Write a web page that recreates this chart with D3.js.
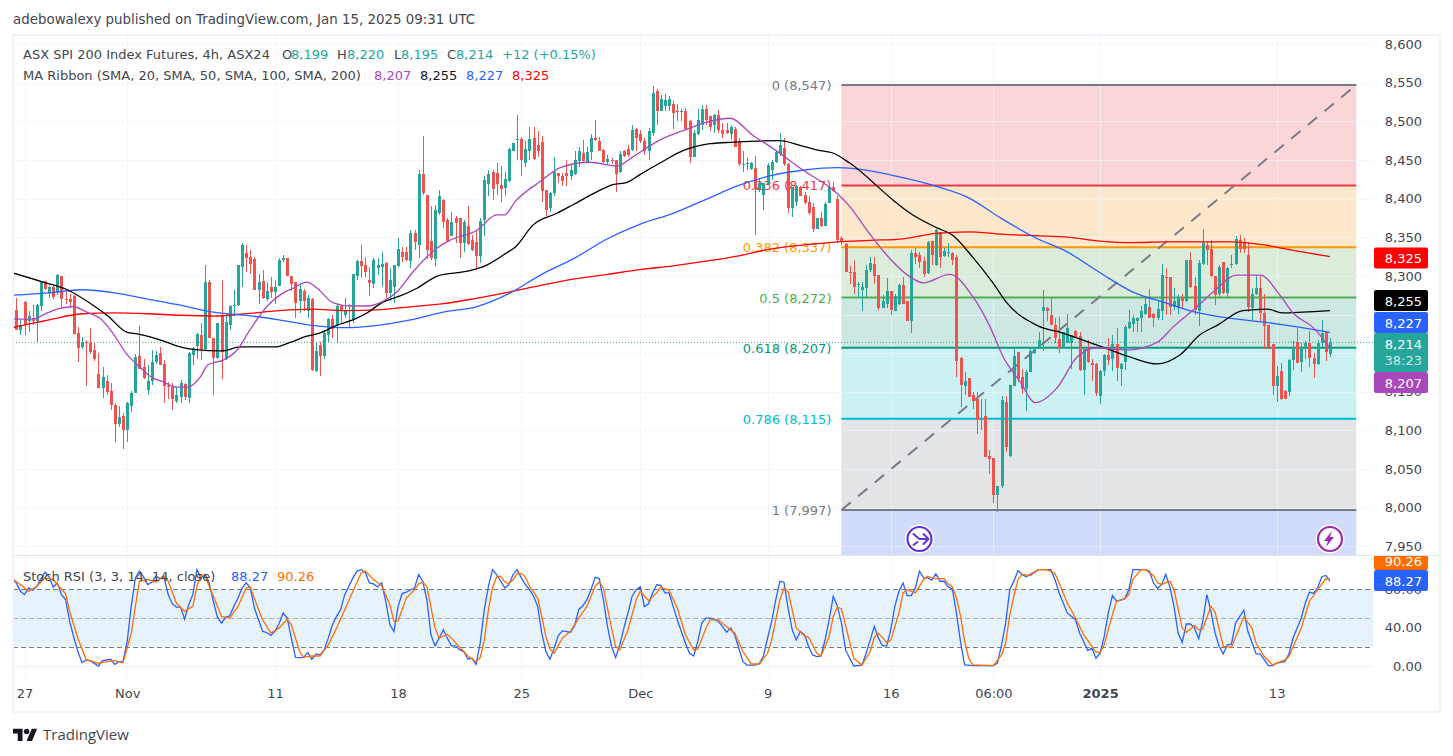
<!DOCTYPE html>
<html>
<head>
<meta charset="utf-8">
<script src="https://cdn.jsdelivr.net/npm/d3@7"></script>
<style>
    html, body { margin: 0; padding: 0; background: #fff; }
    svg { display: block; }
    text { font-family: "DejaVu Sans", sans-serif; }
</style>
</head>
<body>
<div id="chart"></div>
<script>
// candles, oldest first
const openVals = [
    8256,8230,8266,8242,8245,8241,8261,8294,8278,8286,8279,8300,8270,8270,8274,8226,8208,8214,8213,8204,
    8173,8155,8164,8151,8133,8108,8119,8101,8132,8149,8196,8182,8152,8164,8189,8200,8186,8158,8156,8138,
    8143,8160,8142,8198,8209,8223,8205,8292,8220,8194,8248,8193,8237,8261,8262,8312,8330,8325,8322,8282,
    8293,8270,8286,8279,8287,8320,8323,8300,8292,8267,8280,8254,8270,8177,8210,8196,8223,8244,8236,8261,
    8249,8256,8243,8300,8319,8314,8295,8290,8310,8311,8317,8278,8286,8313,8331,8331,8319,8356,8340,8432,
    8405,8345,8322,8381,8398,8372,8352,8375,8375,8343,8365,8347,8344,8326,8372,8419,8435,8433,8417,8414,
    8423,8462,8476,8477,8446,8462,8478,8470,8473,8411,8388,8407,8433,8429,8433,8429,8432,8449,8459,8448,
    8460,8479,8475,8463,8448,8450,8450,8435,8462,8464,8463,8490,8483,8475,8461,8485,8539,8514,8520,8520,
    8523,8513,8513,8513,8501,8454,8484,8495,8516,8507,8495,8508,8489,8489,8483,8490,8473,8445,8446,8438,
    8439,8413,8405,8419,8437,8448,8458,8465,8445,8388,8396,8415,8405,8395,8389,8361,8375,8364,8394,8415,
    8400,8349,8341,8305,8305,8289,8282,8284,8308,8316,8301,8259,8263,8281,8255,8264,8288,8267,8242,8329,
    8327,8319,8304,8345,8314,8357,8326,8331,8330,8324,8194,8158,8168,8146,8141,8113,8119,8067,8064,8016,
    8028,8137,8067,8157,8201,8169,8153,8176,8200,8206,8255,8259,8249,8237,8218,8207,8213,8213,8229,8222,
    8178,8204,8187,8186,8145,8177,8198,8192,8212,8180,8189,8232,8238,8241,8246,8251,8260,8251,8246,8254,
    8299,8298,8260,8259,8272,8267,8320,8287,8254,8316,8340,8335,8300,8276,8318,8278,8314,8316,8347,8344,
    8327,8259,8276,8284,8252,8236,8212,8157,8177,8151,8150,8191,8214,8188,8206,8213,8194,8186,8213,8227,8199
];
const highVals = [
    8271,8243,8267,8254,8262,8264,8294,8294,8288,8288,8303,8300,8279,8277,8275,8234,8221,8217,8233,8213,
    8200,8182,8172,8161,8135,8131,8123,8137,8151,8199,8235,8193,8185,8204,8203,8208,8191,8163,8161,8156,
    8165,8162,8202,8208,8226,8239,8314,8295,8220,8239,8295,8252,8262,8282,8314,8342,8340,8333,8324,8303,
    8308,8292,8299,8295,8323,8327,8323,8300,8292,8291,8283,8275,8271,8213,8215,8230,8246,8249,8264,8262,
    8271,8264,8303,8321,8340,8325,8312,8323,8323,8331,8318,8310,8314,8349,8338,8338,8359,8359,8437,8481,
    8405,8390,8392,8411,8399,8375,8383,8377,8375,8372,8391,8353,8360,8375,8429,8437,8437,8446,8442,8435,
    8465,8472,8508,8480,8474,8493,8493,8487,8481,8411,8408,8454,8433,8433,8450,8444,8461,8467,8476,8467,
    8483,8502,8480,8464,8457,8452,8450,8461,8463,8470,8495,8491,8489,8478,8491,8546,8542,8534,8536,8533,
    8526,8523,8516,8517,8502,8489,8516,8521,8521,8507,8510,8515,8498,8498,8495,8493,8478,8461,8452,8448,
    8455,8426,8420,8446,8450,8461,8485,8478,8446,8415,8418,8416,8409,8403,8394,8375,8383,8395,8420,8421,
    8403,8351,8342,8313,8320,8292,8292,8314,8324,8325,8301,8275,8297,8281,8276,8290,8298,8267,8334,8336,
    8331,8325,8345,8345,8361,8357,8336,8342,8331,8327,8195,8176,8168,8150,8150,8141,8141,8075,8064,8028,
    8145,8144,8159,8206,8201,8180,8178,8208,8208,8228,8282,8260,8271,8246,8247,8228,8251,8223,8230,8228,
    8206,8217,8193,8187,8178,8199,8219,8223,8233,8187,8236,8256,8249,8247,8261,8271,8283,8252,8267,8316,
    8310,8298,8284,8275,8276,8321,8331,8299,8321,8361,8344,8346,8300,8314,8318,8312,8327,8352,8353,8349,
    8344,8284,8301,8301,8277,8236,8212,8184,8187,8152,8192,8216,8233,8213,8216,8229,8200,8217,8243,8228,8220
];
const lowVals = [
    8230,8224,8224,8227,8236,8215,8254,8282,8271,8270,8275,8258,8264,8260,8225,8188,8205,8157,8199,8190,
    8155,8142,8146,8126,8085,8105,8076,8085,8124,8148,8180,8167,8146,8159,8186,8185,8136,8141,8126,8136,
    8136,8139,8136,8185,8193,8191,8204,8220,8146,8193,8167,8191,8230,8248,8261,8286,8305,8303,8282,8264,
    8270,8267,8271,8264,8287,8318,8300,8280,8245,8252,8254,8245,8177,8176,8170,8193,8215,8219,8213,8239,
    8246,8234,8239,8295,8297,8299,8274,8284,8301,8286,8271,8267,8265,8312,8318,8319,8310,8334,8323,8405,
    8322,8321,8313,8379,8362,8344,8351,8342,8323,8331,8340,8332,8307,8317,8351,8403,8398,8405,8396,8403,
    8422,8461,8450,8429,8441,8450,8450,8454,8396,8378,8383,8403,8420,8416,8416,8424,8431,8441,8446,8446,
    8450,8474,8461,8446,8445,8445,8409,8433,8454,8454,8461,8461,8472,8457,8450,8481,8495,8514,8514,8513,
    8490,8500,8500,8490,8446,8454,8482,8489,8495,8487,8485,8485,8478,8483,8476,8467,8442,8435,8437,8437,
    8353,8409,8385,8418,8424,8446,8455,8442,8381,8376,8390,8403,8393,8379,8357,8361,8363,8364,8394,8409,
    8342,8340,8305,8290,8277,8273,8255,8273,8305,8290,8256,8258,8258,8249,8254,8262,8264,8242,8226,8316,
    8310,8298,8302,8314,8313,8310,8324,8325,8314,8169,8130,8146,8143,8128,8096,8100,8065,8044,8006,7995,
    8025,8072,8066,8157,8163,8147,8125,8175,8199,8206,8203,8241,8236,8213,8200,8207,8213,8180,8219,8177,
    8146,8187,8164,8144,8134,8171,8185,8177,8164,8157,8178,8231,8228,8228,8228,8249,8246,8234,8243,8243,
    8249,8249,8256,8251,8258,8266,8284,8249,8235,8314,8314,8298,8262,8273,8277,8273,8310,8314,8329,8329,
    8253,8243,8275,8241,8205,8205,8146,8137,8140,8141,8144,8178,8187,8176,8193,8182,8168,8185,8208,8190,8195
];
const closeVals = [
    8230,8236,8236,8248,8241,8262,8292,8283,8285,8273,8301,8270,8269,8266,8225,8207,8214,8213,8201,8192,
    8155,8169,8150,8133,8108,8117,8101,8136,8149,8195,8180,8168,8164,8189,8198,8185,8158,8157,8141,8146,
    8162,8143,8200,8207,8225,8205,8292,8220,8194,8239,8202,8240,8261,8262,8314,8340,8323,8315,8282,8292,
    8271,8280,8279,8286,8320,8323,8300,8289,8265,8283,8267,8271,8178,8203,8196,8226,8244,8231,8261,8254,
    8256,8254,8302,8319,8313,8305,8291,8320,8314,8315,8278,8295,8314,8335,8325,8321,8356,8344,8432,8407,
    8334,8323,8385,8403,8370,8345,8370,8368,8343,8370,8341,8333,8326,8371,8424,8432,8413,8419,8413,8425,
    8464,8472,8477,8450,8464,8477,8451,8462,8410,8385,8407,8434,8429,8423,8429,8437,8450,8461,8449,8460,
    8479,8476,8462,8447,8451,8449,8432,8458,8455,8457,8489,8478,8475,8461,8487,8537,8514,8529,8528,8529,
    8511,8512,8513,8490,8454,8485,8502,8516,8502,8493,8508,8489,8484,8485,8493,8467,8445,8445,8446,8446,
    8413,8420,8420,8444,8448,8460,8470,8445,8388,8415,8416,8403,8394,8382,8361,8375,8364,8393,8415,8410,
    8347,8344,8305,8304,8285,8290,8286,8307,8317,8300,8259,8267,8281,8256,8274,8288,8264,8242,8329,8324,
    8318,8303,8344,8327,8359,8325,8332,8331,8321,8190,8159,8164,8143,8138,8113,8115,8066,8063,8016,8028,
    8139,8078,8159,8196,8166,8153,8176,8203,8205,8217,8260,8255,8236,8219,8207,8227,8233,8223,8219,8178,
    8205,8188,8185,8148,8177,8198,8191,8212,8181,8186,8234,8240,8245,8246,8254,8264,8246,8245,8257,8301,
    8298,8260,8267,8272,8267,8320,8285,8256,8317,8342,8333,8300,8275,8312,8278,8310,8316,8348,8335,8335,
    8260,8277,8284,8252,8235,8205,8157,8171,8141,8141,8191,8205,8187,8206,8213,8194,8186,8213,8226,8201,8214
];

// moving averages, read at the bends of each line
const sma20Bars = [-1,4,7.5,10.6,13.8,17.2,20.4,23.5,27,30.1,32.6,35.7,39.1,41.8,44.8,46.7,50.4,53.8,56.9,61,65,67.4,70.8,73.3,77.2,81.3,85.4,89.3,92.7,96.6,102.5,105.6,112.2,117,119,121.5,127.6,132.5,139.7,146.3,150.2,156.8,163.4,168.2,173.9,179.4,184.3,191.6,199.9,203,207.2,212,217.6,220.9,227.4,233,237.2,240.4,244.5,248.2,253.5,258.4,263.2,270.5,277.9,281.8,287.6,291.5,297.4,303,307.8,311,315.9,320];
const sma20 = [8244,8244,8252,8258,8260,8253,8245,8226,8198,8182,8170,8163,8156,8156,8169,8185,8191,8204,8230,8260,8278,8284,8292,8284,8265,8261,8261,8267,8279,8305,8336,8346,8359,8379,8379,8396,8422,8440,8447,8442,8454,8476,8490,8499,8504,8482,8465,8437,8407,8390,8359,8327,8299,8291,8302,8273,8234,8195,8163,8136,8155,8195,8207,8204,8214,8234,8260,8279,8301,8301,8275,8252,8233,8207];
const sma50Bars = [-1,6.5,12.4,18.7,22.1,27,29.4,32.6,35.7,39.9,43,50.4,54.5,63,66.7,70.8,73.9,78,82,85.4,89.3,93.5,97.6,102.7,109.8,114.6,119.5,121.5,125.9,131.7,135.6,141.5,145.3,148.8,151.9,156.8,162.4,169,174.6,186,190.9,195.8,198.9,203,213.6,217.2,224.3,228,233,237.9,241.3,248.6,254.9,264,271.3,277.9,283.5,288.4,292.5,298.8,304.7,308.6,313.4,320];
const sma50 = [8304,8292,8282,8262,8249,8227,8225,8221,8216,8208,8205,8203,8208,8208,8214,8222,8226,8236,8243,8252,8266,8274,8284,8300,8306,8314,8330,8337,8366,8381,8392,8409,8418,8421,8431,8446,8462,8471,8473,8475,8469,8462,8459,8446,8398,8383,8362,8353,8324,8291,8265,8236,8226,8209,8195,8186,8198,8224,8236,8255,8257,8252,8253,8255];
const maBars = [-1,8,16,24,32,40,48,56,64,72,80,88,96,104,112,120,128,136,144,152,160,168,176,184,192,200,208,216,224,232,240,248,256,264,272,280,288,296,304,312,320];
const sma100 = [8275,8278,8282,8278,8270,8262,8253,8249,8243,8236,8233,8236,8243,8253,8260,8277,8302,8323,8348,8367,8381,8399,8417,8430,8437,8440,8436,8427,8416,8401,8374,8350,8331,8304,8279,8265,8252,8245,8240,8234,8227];
const sma200 = [8233,8243,8251,8252,8251,8249,8248,8251,8255,8257,8255,8256,8260,8264,8271,8279,8288,8296,8302,8308,8313,8319,8326,8335,8340,8344,8346,8348,8355,8357,8354,8352,8350,8345,8343,8344,8344,8344,8340,8332,8325];

// stoch rsi
const kBars = [-1,0,1,2,3,4,5,7,8,9,10,11,12,13,14,15,16,17,18,20,21,23,24,25,26,27,28,29,30,31,32,33,34,35,36,37,38,39,40,41,42,43,44,45,46,47,48,49,50,51,52,53,54,55,56,57,58,59,60,61,62,63,64,65,66,67,68,69,70,71,72,73,74,75,76,77,78,79,80,82,83,84,85,86,87,88,89,90,91,92,93,94,95,97,98,99,100,101,102,103,104,105,106,107,108,109,110,111,112,
    113,114,115,116,117,118,119,120,121,122,123,124,125,126,127,128,129,130,131,132,133,135,136,137,138,139,140,141,142,143,144,145,146,147,148,149,150,151,152,153,154,155,156,157,158,159,160,161,162,163,164,165,166,167,168,169,170,171,172,173,174,175,176,177,178,180,181,182,183,184,185,186,187,188,189,190,191,192,193,194,195,196,197,198,199,200,201,202,203,204,206,207,208,209,210,211,212,213,214,215,216,217,218,219,220,221,222,223,224,225,226,227,228,229,230,
    231,233,238,239,240,241,242,243,244,245,246,247,249,251,252,253,254,256,258,259,260,261,262,263,264,265,266,267,268,270,271,272,275,276,277,278,279,280,281,282,283,284,285,286,287,288,289,290,291,292,293,294,295,296,297,299,300,302,303,305,306,307,309,310,311,313,314,315,316,317,318,319,320];
const kVals = [90.5,86.3,77.6,74.1,81.1,78.6,82.8,97.4,92.6,81.8,86.3,74.1,68.9,46.3,29.9,15,3.5,6.3,5.6,0,5.6,7,1.7,4.5,4.5,25.4,61.9,91.5,98.5,92.6,84.6,87,93.3,90.5,91.5,74.1,64.7,61.2,61.2,48.7,63.7,74.1,100,91.5,95,86.3,67.2,50.5,44.5,50.5,52.2,61.9,70.6,81.1,86.3,81.1,60.2,48,35.9,34.8,31.7,35.9,43.8,55,49.8,28.9,9,8.7,9,13.9,7,12.5,11.5,16.7,28.9,42.8,51.5,58.5,74.1,91.5,98.5,100,97.4,86.3,85.3,82.1,86.3,67.2,42.8,35.9,61.9,75.2,76.6,81.1,95,88,68.9,32.4,20.9,28.9,37.6,28.9,20.9,20.9,16.7,15,7.3,8,1.7,
    23.7,58.5,82.8,100,95,88,81.1,84.6,95,100,91.5,84.6,79.3,72.4,61.9,34.1,15,7,18.4,31.3,36.5,35.1,41.8,58.5,62.6,68.9,79.3,92.2,90.8,68.9,41.1,20.2,8.7,21.9,39.3,55,72.4,79.3,82.1,61.9,64.4,75.9,84.6,83.5,75.9,75.9,61.9,48,35.9,23.7,13.2,10.4,25.4,45.2,49.8,49.8,48.7,46.3,41.1,35.1,39.3,32.4,18.4,4.5,1,1,2.8,10.4,28.9,46.3,68.9,88,87,60.2,37.6,27.1,35.9,32.4,20.2,11.5,9.7,10.4,27.1,48,72.4,61.9,44.5,16.7,8,0,1,13.2,27.1,41.1,28.9,20.9,20.9,37.6,61.9,77.6,86.3,73.1,73.1,81.1,98.5,91.5,91.5,89.1,95.7,88,88,82.1,80,55,25,
    1.1,0.4,0.4,2.9,22,44.6,79.4,88.1,99,95.1,92.7,95.1,100,100,100,89.9,76,55.1,48.1,34.2,25.5,16.1,18.5,8.1,13.3,30.7,55.1,73.2,67.3,69.7,79.4,100,100,98.6,86.4,80.5,84.7,95.1,82.2,62,34.2,24.5,43.6,43.6,39.4,28.3,46.4,74.2,56.8,34.2,20.3,12.6,22,22.7,44.6,57.9,36,12.6,12.6,0.4,0.4,2.9,4.6,12.6,29,49.9,65.5,76.7,75.3,81.2,92.7,94,88.27];
const dBars = [-1,1,3,5,7,9,10,12,13,15,17,20,22,24,26,28,29,30,32,34,36,37,39,41,43,44,45,46,48,50,52,54,56,57,59,60,62,64,66,67,69,70,72,74,76,78,80,82,84,85,87,89,91,92,93,95,97,98,99,100,102,103,105,106,108,110,112,
    113,114,115,116,117,118,119,120,121,122,123,124,125,127,128,129,130,131,133,135,137,139,141,142,143,145,146,147,149,151,152,154,156,157,159,161,163,165,166,168,169,171,173,175,177,179,181,183,184,186,187,188,190,192,193,195,196,198,199,200,201,204,206,208,209,210,212,213,215,216,217,219,221,222,223,224,226,227,228,229,230,
    231,232,233,238,240,241,242,243,244,245,247,249,251,253,254,256,258,260,262,263,264,265,267,268,270,271,272,274,275,277,278,279,281,282,284,285,287,288,289,291,292,294,296,299,301,302,304,306,309,310,313,315,317,319,320];
const dVals = [90.5,84.6,77.6,82.8,91.5,89.8,84.6,75.2,56.7,28.9,6.9,2.8,4.5,5.6,3.5,34.1,61.9,88,89.8,87.3,93.3,88,65.4,56.7,61.9,82.8,95,93.3,72.4,51.5,49.8,61.9,81.1,81.8,58.5,48,34.1,39.3,48.7,42.8,15,9,10.4,10.4,21.9,39.3,58.5,77.6,96.7,98.5,89.8,83.5,63.7,46.3,47,70.6,79.3,85.3,87.3,82.8,39.3,28.9,33,28.9,19.5,10.4,4.5,
    8.7,27.1,58.5,81.1,92.6,93.3,87.3,85.6,89.8,96,96,92.6,82.8,70.6,51.5,30.6,17.4,13.2,28.9,35.9,49.8,61.9,82.8,87.3,81.1,39.3,20.2,16.7,37.6,68.9,77.6,67.9,75.9,81.8,78.6,60.2,32.4,16.7,17.4,39.3,48,48,41.1,34.1,15,2.1,2.1,13.2,27.1,68.9,81.1,77.6,39.3,31.3,29.9,13.2,10.4,30.6,51.5,61.2,59.2,8,1,15,29.9,34.1,24.4,26.4,55,75.9,79.3,75.9,89.8,93.3,91.5,90.8,90.8,85.3,82.1,70.6,52,
    25.5,8.1,1.1,0.4,11.6,23.8,53.3,72.5,89.9,95.1,94,100,100,96.1,86.4,65.5,49.9,32.5,20.3,14.4,14,22,53.3,67.3,69.7,74.2,89.9,100,100,94,86.4,84.7,88.1,79.4,39.4,34.9,41.9,37.7,38.4,62,56.1,20.3,19.6,50.9,39.4,23.8,9.8,1.1,6.4,9.8,39.4,67.3,79.4,90.6,90.26];

// axes
const priceTicks = [7950,8000,8050,8100,8150,8200,8250,8300,8350,8400,8450,8500,8550,8600];
const priceLabelTicks = [7950,8000,8050,8100,8150,8300,8350,8400,8450,8500,8550,8600];
const stochTicks = [0,40,80];
const timeTickBars = [2,27,63,93,123,152,183,213,238,264,307];
const timeTickLabels = ["27","Nov","11","18","25","Dec","9","16","06:00","2025","13"];

// fibonacci retracement
const fibRatios = ["0","0.236","0.382","0.5","0.618","0.786","1"];
const fibPrices = [8547,8417,8337,8272,8207,8115,7997];
const fibLines = ["#787b86","#f23645","#ff9800","#4caf50","#089981","#00bcd4","#787b86"];
const fibFills = ["#fbd6d9","#fee8cc","#dcecda","#cde8e2","#ccf1f3","#e3e4e6","#d1dcfb"];
const fibStartBar = 201, fibEndBar = 326.4;

const width = 1453, height = 756;
const left = 13, right = 1440, paneRight = 1373;
const fontSize = 13;

const svg = d3.select("#chart").append("svg")
    .attr("width", width)
    .attr("height", height);

const x = d3.scaleLinear().domain([0, 320]).range([16.3, 1330]);
const y = d3.scaleLinear().domain([7997, 8547]).range([510, 85]);
const ys = d3.scaleLinear().domain([0, 100]).range([666, 569.7]);
const priceBottom = 555;

svg.append("defs").append("clipPath").attr("id", "price-clip")
    .append("rect").attr("x", left).attr("y", 36).attr("width", paneRight - left).attr("height", priceBottom - 36);
svg.select("defs").append("clipPath").attr("id", "stoch-clip")
    .append("rect").attr("x", left).attr("y", priceBottom).attr("width", paneRight - left).attr("height", 122);
svg.select("defs").append("clipPath").attr("id", "stoch-label-clip")
    .append("rect").attr("x", 1370).attr("y", priceBottom + 1).attr("width", 70).attr("height", 122);

// grid
const grid = svg.append("g").attr("stroke", "#f0f3fa").attr("stroke-width", 1).attr("shape-rendering", "crispEdges");
grid.selectAll(".v").data(timeTickBars).enter().append("line")
    .attr("x1", d => Math.round(x(d)) + 0.5).attr("x2", d => Math.round(x(d)) + 0.5)
    .attr("y1", 36).attr("y2", 677);
grid.selectAll(".h").data(priceTicks).enter().append("line")
    .attr("x1", left).attr("x2", paneRight)
    .attr("y1", d => Math.round(y(d)) + 0.5).attr("y2", d => Math.round(y(d)) + 0.5);

// fib bands
const fibEdges = fibPrices.concat([y.invert(priceBottom)]);
svg.selectAll(".fib-band").data(fibFills).enter().append("rect")
    .attr("x", x(fibStartBar))
    .attr("width", x(fibEndBar) - x(fibStartBar))
    .attr("y", (d, i) => y(fibEdges[i]))
    .attr("height", (d, i) => y(fibEdges[i + 1]) - y(fibEdges[i]))
    .attr("fill", d => d);
grid.raise();
grid.attr("stroke-opacity", 0.7);
svg.selectAll(".fib-line").data(fibPrices).enter().append("line")
    .attr("x1", x(fibStartBar)).attr("x2", x(fibEndBar))
    .attr("y1", d => y(d)).attr("y2", d => y(d))
    .attr("stroke", (d, i) => fibLines[i])
    .attr("stroke-width", 2);
svg.selectAll(".fib-label").data(fibPrices).enter().append("text")
    .attr("x", x(fibStartBar) - 10)
    .attr("y", d => y(d) + 5)
    .attr("text-anchor", "end")
    .attr("font-size", fontSize)
    .attr("fill", (d, i) => fibLines[i])
    .text((d, i) => fibRatios[i] + " (" + d3.format(",")(d) + ")");

// trend line of the fib tool
svg.append("line")
    .attr("x1", x(fibStartBar)).attr("y1", y(fibPrices[6]))
    .attr("x2", x(fibEndBar)).attr("y2", y(fibPrices[0]))
    .attr("stroke", "#787b86")
    .attr("stroke-width", 2)
    .attr("stroke-dasharray", "12 9.6");

const last = closeVals.length - 1;

// last price dotted line
svg.append("line")
    .attr("x1", left).attr("x2", paneRight)
    .attr("y1", y(closeVals[last])).attr("y2", y(closeVals[last]))
    .attr("stroke", "#26a69a")
    .attr("stroke-width", 1)
    .attr("stroke-dasharray", "1 2");

// candles
const candles = svg.append("g").attr("clip-path", "url(#price-clip)").attr("shape-rendering", "crispEdges");
candles.selectAll(".wick").data(closeVals).enter().append("line")
    .attr("x1", (d, i) => Math.round(x(i)) + 0.5)
    .attr("x2", (d, i) => Math.round(x(i)) + 0.5)
    .attr("y1", (d, i) => y(highVals[i]))
    .attr("y2", (d, i) => y(lowVals[i]))
    .attr("stroke", (d, i) => d >= openVals[i] ? "#26a69a" : "#ef5350");
candles.selectAll(".body").data(closeVals).enter().append("rect")
    .attr("x", (d, i) => Math.round(x(i)) - 1)
    .attr("width", 3)
    .attr("y", (d, i) => y(Math.max(d, openVals[i])))
    .attr("height", (d, i) => Math.max(1, Math.abs(y(d) - y(openVals[i]))))
    .attr("fill", (d, i) => d >= openVals[i] ? "#26a69a" : "#ef5350");

// ma ribbon
const maSeries = [[sma200, maBars, "#ff0000"], [sma100, maBars, "#2962ff"], [sma50, sma50Bars, "#000000"], [sma20, sma20Bars, "#ab47bc"]];
const maGroup = svg.append("g").attr("clip-path", "url(#price-clip)");
maSeries.forEach(function (s) {
    const maLine = d3.line().x((d, i) => x(s[1][i])).y(d => y(d)).curve(d3.curveMonotoneX);
    maGroup.append("path")
        .attr("d", maLine(s[0]))
        .attr("fill", "none")
        .attr("stroke", s[2])
        .attr("stroke-width", 1.3);
});

// markers on the bottom of the price pane
function marker(bar, icon) {
    const g = svg.append("g").attr("transform", `translate(${x(bar)},539)`);
    g.append("circle").attr("r", 14.5).attr("fill", "#fff");
    g.append("circle").attr("r", 12).attr("fill", "#fff").attr("stroke", icon.color).attr("stroke-width", 2.2);
    g.append("path").attr("d", icon.d).attr("fill", icon.fill).attr("stroke", icon.stroke)
        .attr("stroke-width", 2).attr("stroke-linecap", "round").attr("stroke-linejoin", "round");
}
marker(220, {color: "#5e35d6", fill: "none", stroke: "#5e35d6", d: "M-6-5l6 5h8M4-5l5 5-5 5M-6 6l4-3"});
marker(320, {color: "#9c27b0", fill: "#9c27b0", stroke: "none", d: "M2-8L-6 2h4l-2 6 8-10H0z"});

// price axis
const priceAxis = svg.append("g")
    .attr("transform", "translate(1422,0)")
    .call(d3.axisRight(y).tickValues(priceLabelTicks).tickFormat(d3.format(",")).tickSize(0).tickPadding(0));
priceAxis.select(".domain").remove();
priceAxis.selectAll("text")
    .attr("text-anchor", "end")
    .style("font-family", '"DejaVu Sans", sans-serif')
    .attr("font-size", fontSize)
    .attr("fill", "#434651");

// price labels
const priceTags = [
    [8325, "#ff0000", 247.5], [8255, "#000000", 290], [8227, "#2962ff", 312], [8207, "#ab47bc", 372]
];
function tag(value, color, top, h) {
    svg.append("rect").attr("x", 1374).attr("y", top).attr("width", 54).attr("height", h).attr("rx", 2).attr("fill", color);
    svg.append("text").attr("x", 1422).attr("y", top + 15.5).attr("text-anchor", "end")
        .attr("font-size", fontSize).attr("fill", "#fff").text(value);
}
priceTags.forEach(t => tag(d3.format(",")(t[0]), t[1], t[2], 21));
tag(d3.format(",")(closeVals[last]), "#26a69a", 333, 39);
svg.append("text").attr("x", 1422).attr("y", 365).attr("text-anchor", "end")
    .attr("font-size", fontSize).attr("fill", "#c8ebe6").text("38:23");

// stoch pane
svg.append("rect")
    .attr("x", left).attr("width", paneRight - left)
    .attr("y", ys(80)).attr("height", ys(20) - ys(80))
    .attr("fill", "#e6f3fd");
const stochGrid = svg.append("g").attr("stroke", "#eef0f6").attr("shape-rendering", "crispEdges");
stochGrid.selectAll("line").data(stochTicks).enter().append("line")
    .attr("x1", left).attr("x2", paneRight)
    .attr("y1", d => Math.round(ys(d)) + 0.5).attr("y2", d => Math.round(ys(d)) + 0.5);
svg.selectAll(".stoch-band").data([80, 50, 20]).enter().append("line")
    .attr("x1", left).attr("x2", paneRight)
    .attr("y1", d => Math.round(ys(d)) + 0.5).attr("y2", d => Math.round(ys(d)) + 0.5)
    .attr("stroke", "#787b86")
    .attr("stroke-opacity", d => d == 50 ? 0.55 : 1)
    .attr("stroke-dasharray", "5 3");

const stochGroup = svg.append("g").attr("clip-path", "url(#stoch-clip)");
stochGroup.append("path")
    .attr("d", d3.line().x((d, i) => x(kBars[i])).y(d => ys(d))(kVals))
    .attr("fill", "none").attr("stroke", "#2962ff").attr("stroke-width", 1.3);
stochGroup.append("path")
    .attr("d", d3.line().x((d, i) => x(dBars[i])).y(d => ys(d))(dVals))
    .attr("fill", "none").attr("stroke", "#ff6d00").attr("stroke-width", 1.3);

const stochAxis = svg.append("g")
    .attr("transform", "translate(1422,0)")
    .call(d3.axisRight(ys).tickValues(stochTicks).tickFormat(d3.format(".2f")).tickSize(0).tickPadding(0));
stochAxis.select(".domain").remove();
stochAxis.selectAll("text")
    .attr("text-anchor", "end")
    .style("font-family", '"DejaVu Sans", sans-serif')
    .attr("font-size", fontSize)
    .attr("fill", "#434651");

const stochTags = svg.append("g").attr("clip-path", "url(#stoch-label-clip)");
stochTags.append("rect").attr("x", 1374).attr("y", 551).attr("width", 54).attr("height", 19).attr("rx", 2).attr("fill", "#ff6d00");
stochTags.append("text").attr("x", 1422).attr("y", 566).attr("text-anchor", "end").attr("font-size", fontSize).attr("fill", "#fff").text("90.26");
stochTags.append("rect").attr("x", 1374).attr("y", 570).attr("width", 54).attr("height", 21).attr("rx", 2).attr("fill", "#2962ff");
stochTags.append("text").attr("x", 1422).attr("y", 585.5).attr("text-anchor", "end").attr("font-size", fontSize).attr("fill", "#fff").text("88.27");

// time axis
const timeAxis = svg.append("g")
    .attr("transform", "translate(0,689)")
    .call(d3.axisBottom(x).tickValues(timeTickBars).tickFormat((d, i) => timeTickLabels[i]).tickSize(0).tickPadding(0));
timeAxis.select(".domain").remove();
timeAxis.selectAll("text")
    .style("font-family", '"DejaVu Sans", sans-serif')
    .attr("font-size", fontSize)
    .attr("dy", "0.7em")
    .attr("fill", "#434651")
    .attr("font-weight", d => d == 264 ? 700 : 400);

// frame
svg.append("rect")
    .attr("x", left).attr("y", 35).attr("width", right - left).attr("height", 677)
    .attr("fill", "none").attr("stroke", "#f0f3fa").attr("stroke-width", 2);
svg.append("line").attr("x1", left).attr("x2", right).attr("y1", priceBottom + 0.5).attr("y2", priceBottom + 0.5)
    .attr("stroke", "#e0e3eb");

// texts
svg.append("text").attr("x", 13).attr("y", 24).attr("font-size", 13.4).attr("fill", "#434651")
    .text("adebowalexy published on TradingView.com, Jan 15, 2025 09:31 UTC");

function legend(yPos, parts) {
    const t = svg.append("text").attr("y", yPos).attr("font-size", fontSize);
    parts.forEach(p => t.append("tspan").attr("x", p[0]).attr("fill", p[2]).text(p[1]));
}
const grey = "#434651", up = "#26a69a";
legend(59, [[23, "ASX SPI 200 Index Futures, 4h, ASX24", grey], [282, "O", grey], [291, "8,199", up], [337, "H", grey], [347, "8,220", up], [394, "L", grey], [401, "8,195", up], [447, "C", grey], [456, "8,214", up], [502, "+12 (+0.15%)", up]]);
legend(80, [[23, "MA Ribbon (SMA, 20, SMA, 50, SMA, 100, SMA, 200)", grey], [374, "8,207", "#ab47bc"], [420, "8,255", "#131722"], [466, "8,227", "#2962ff"], [512, "8,325", "#ff0000"]]);
legend(581, [[23, "Stoch RSI (3, 3, 14, 14, close)", grey], [231, "88.27", "#2962ff"], [277, "90.26", "#ff6d00"]]);

// logo
const logo = svg.append("g").attr("transform", "translate(13,727.5) scale(0.68)").attr("fill", "#131722");
logo.append("path").attr("d", "M14 20H7V9H0V2h14v18zM28 20h-8l7.5-18h8L28 20z");
logo.append("circle").attr("cx", 20).attr("cy", 6).attr("r", 4);
svg.append("text").attr("x", 43).attr("y", 740).attr("font-size", 15).style("font-family", '"Open Sans", sans-serif').attr("fill", "#434651").text("TradingView");
</script>
</body>
</html>
